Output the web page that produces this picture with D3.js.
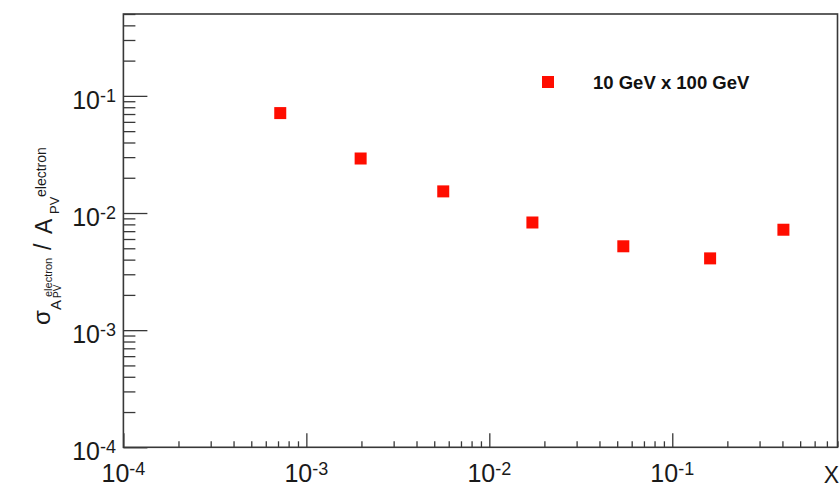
<!DOCTYPE html>
<html>
<head>
<meta charset="utf-8">
<script src="https://cdn.jsdelivr.net/npm/d3@7"></script>
<style>
  body { margin: 0; background: #fff; }
  text { font-family: "Liberation Sans", Arial, Helvetica, sans-serif; }
</style>
</head>
<body>
<div id="chart"></div>
<script>
// data
const xValues = [7.2e-4, 1.98e-3, 5.6e-3, 1.72e-2, 5.4e-2, 0.161, 0.405];
const yValues = [0.0713, 0.0292, 0.0153, 0.0083, 0.0052, 0.0041, 0.0072];
const seriesLabel = "10 GeV x 100 GeV";
const xDomain = [1e-4, 0.8];
const yDomain = [1e-4, 0.5];
const xMajorTicks = [1e-4, 1e-3, 1e-2, 1e-1];
const yMajorTicks = [1e-4, 1e-3, 1e-2, 1e-1];

const WIDTH = 839;
const HEIGHT = 487;
const FRAME = { left: 123.4, right: 837.5, top: 14, bottom: 447.3 };
const MARKER = 12;
const AXIS_COLOR = "#383838";
const TEXT_COLOR = "#1a1a1a";
const RED = "#ff0d00";

function minorTicks(domain) {
  const out = [];
  for (let e = Math.floor(Math.log10(domain[0])); e <= Math.ceil(Math.log10(domain[1])); e++) {
    for (let m = 2; m <= 9; m++) {
      const v = m * Math.pow(10, e);
      if (v > domain[0] && v <= domain[1]) out.push(v);
    }
  }
  return out;
}

const svg = d3
  .select("#chart")
  .append("svg")
  .attr("width", WIDTH)
  .attr("height", HEIGHT);

const x = d3.scaleLog().domain(xDomain).range([FRAME.left, FRAME.right]);
const y = d3.scaleLog().domain(yDomain).range([FRAME.bottom, FRAME.top]);

// ticks, pointing into the frame
const gx = svg.append("g").attr("transform", `translate(0,${FRAME.bottom})`);
gx.append("g").call(d3.axisBottom(x).tickValues(xMajorTicks).tickSize(-14).tickSizeOuter(0).tickFormat(""));
gx.append("g").call(d3.axisBottom(x).tickValues(minorTicks(xDomain)).tickSize(-6).tickSizeOuter(0).tickFormat(""));

const gy = svg.append("g").attr("transform", `translate(${FRAME.left},0)`);
gy.append("g").call(d3.axisLeft(y).tickValues(yMajorTicks).tickSize(-24).tickSizeOuter(0).tickFormat(""));
gy.append("g").call(d3.axisLeft(y).tickValues(minorTicks(yDomain)).tickSize(-12).tickSizeOuter(0).tickFormat(""));

svg.selectAll(".domain").remove();
svg.selectAll(".tick line").attr("stroke", AXIS_COLOR).attr("stroke-width", 1.3);

svg
  .append("rect")
  .attr("x", FRAME.left)
  .attr("y", FRAME.top)
  .attr("width", FRAME.right - FRAME.left)
  .attr("height", FRAME.bottom - FRAME.top)
  .attr("fill", "none")
  .attr("stroke", AXIS_COLOR)
  .attr("stroke-width", 1.6);

// 10^n labels
function powerLabel(sel) {
  sel.append("tspan").attr("font-size", 25).text("10");
  sel
    .append("tspan")
    .attr("font-size", 18)
    .attr("dy", -7)
    .text((d) => Math.round(Math.log10(d)));
}

svg
  .append("g")
  .selectAll("text")
  .data(xMajorTicks)
  .join("text")
  .attr("x", (d) => x(d))
  .attr("y", 482)
  .attr("text-anchor", "middle")
  .attr("fill", TEXT_COLOR)
  .call(powerLabel);

svg
  .append("g")
  .selectAll("text")
  .data(yMajorTicks)
  .join("text")
  .attr("x", 116)
  .attr("y", (d) => y(d) + 13)
  .attr("text-anchor", "end")
  .attr("fill", TEXT_COLOR)
  .call(powerLabel);

// axis titles
svg
  .append("text")
  .attr("x", 839)
  .attr("y", 483)
  .attr("text-anchor", "end")
  .attr("font-size", 23)
  .attr("fill", TEXT_COLOR)
  .text("X");

// rotated: local x = -screenY, local y = screenX
const yTitle = svg
  .append("text")
  .attr("transform", "rotate(-90)")
  .attr("fill", TEXT_COLOR);
const titleParts = [
  { t: "σ", sy: 325, sx: 50, fs: 24 },
  { t: "A", sy: 310, sx: 61, fs: 15 },
  { t: "PV", sy: 298, sx: 61, fs: 10 },
  { t: "electron", sy: 297, sx: 52, fs: 11 },
  { t: "/", sy: 250, sx: 51, fs: 23 },
  { t: "A", sy: 234, sx: 52, fs: 23 },
  { t: "PV", sy: 214, sx: 59, fs: 13 },
  { t: "electron", sy: 197, sx: 46, fs: 14 },
];
yTitle
  .selectAll("tspan")
  .data(titleParts)
  .join("tspan")
  .attr("x", (d) => -d.sy)
  .attr("y", (d) => d.sx)
  .attr("font-size", (d) => d.fs)
  .text((d) => d.t);

// points
svg
  .append("g")
  .selectAll("rect")
  .data(xValues.map((v, i) => [v, yValues[i]]))
  .join("rect")
  .attr("x", (d) => x(d[0]) - MARKER / 2)
  .attr("y", (d) => y(d[1]) - MARKER / 2)
  .attr("width", MARKER)
  .attr("height", MARKER)
  .attr("fill", RED);

// legend
const legend = svg.append("g").attr("transform", "translate(548,82)");
legend
  .append("rect")
  .attr("x", -MARKER / 2)
  .attr("y", -MARKER / 2)
  .attr("width", MARKER)
  .attr("height", MARKER)
  .attr("fill", RED);
legend
  .append("text")
  .attr("x", 45)
  .attr("y", 7)
  .attr("font-size", 18.5)
  .attr("font-weight", "bold")
  .attr("fill", "#111")
  .text(seriesLabel);
</script>
</body>
</html>
